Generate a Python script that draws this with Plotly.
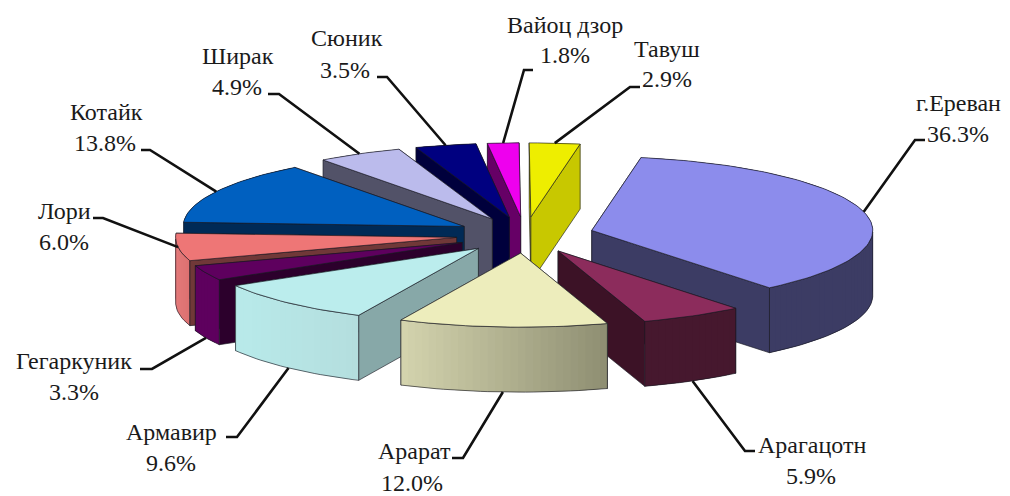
import math
import plotly.graph_objects as go

# --- data (clockwise from the start angle) ---
regions = ["г.Ереван", "Арагацотн", "Арарат", "Армавир", "Гегаркуник", "Лори",
           "Котайк", "Ширак", "Сюник", "Вайоц дзор", "Тавуш"]
shares = [36.3, 5.9, 12.0, 9.6, 3.3, 6.0, 13.8, 4.9, 3.5, 1.8, 2.9]

# --- styles ---
top_colors = ["#8C8CEC", "#8C2C5C", "#EDEDBC", "#BBEDED", "#5E005E", "#EE7676",
              "#0060C0", "#BBBBEC", "#000080", "#EE00EE", "#EEEE00"]
face_colors = ["#3C3C64", "#3C1226", "#8C8C70", "#87A8A8", "#2C002C", "#703838",
               "#002A56", "#525268", "#00003C", "#660066", "#C8C800"]
rim_start = ["#3C3C64", "#46182E", "#D4D4AE", "#B8EAEA", "#5E005E", "#E47A7A",
             "#002A56", "#525268", "#00003C", "#660066", "#C8C800"]
rim_end = ["#3C3C64", "#46182E", "#8E8E72", "#B4DEDE", "#5E005E", "#DC7070",
           "#002A56", "#525268", "#00003C", "#660066", "#C8C800"]

# --- projection of the tilted, exploded pie (pixels of the axes) ---
CX, CY, RX, RY, EXPLODE, DEPTH, START = 525, 235, 281, 74, 69, 65, 10.1
EDGE = "rgba(25,25,35,0.8)"

# --- label layout: (name x, name y, value x, value y, elbow x, elbow y, tail x) ---
label_layout = [
    (958, 103, 958, 134, 915, 140, 925),
    (812, 445, 811, 476, 745, 451, 755),
    (414, 451, 412, 483, 463, 458, 452),
    (171, 432, 171, 463, 237, 437, 226),
    (74, 361, 74, 392, 152, 369, 140),
    (64, 211, 64, 242, 103, 218, 93),
    (106, 112, 105, 143, 150, 150, 141),
    (238, 56, 237, 87, 279, 94, 268),
    (347, 38, 345, 70, 387, 77, 377),
    (565, 25, 565, 55, 524, 70, 533),
    (667, 49, 667, 79, 630, 87, 640),
]


def mix(c1, c2, t):
    a = [int(c1[i:i + 2], 16) for i in (1, 3, 5)]
    b = [int(c2[i:i + 2], 16) for i in (1, 3, 5)]
    return "#%02X%02X%02X" % tuple(round(p + (q - p) * t) for p, q in zip(a, b))


def poly(xs, ys, fill=None, line=EDGE, width=0.8):
    return go.Scatter(
        x=list(xs) + [xs[0]], y=list(ys) + [ys[0]], mode="lines",
        fill="toself" if fill else "none", fillcolor=fill,
        line=dict(color=line, width=width),
        hoverinfo="skip", showlegend=False)


def rim_point(apex, theta):
    t = math.radians(theta)
    return apex[0] + RX * math.sin(t), apex[1] - RY * math.cos(t)


# angular extents
wedges = []
a = START
for i, v in enumerate(shares):
    b = a + 3.6 * v
    m = math.radians((a + b) / 2)
    apex = (CX + EXPLODE * math.sin(m), CY - EXPLODE * RY / RX * math.cos(m))
    wedges.append(dict(i=i, a=a, b=b, m=(a + b) / 2, apex=apex, c=math.cos(m)))
    a = b

fig = go.Figure()
annotations = []

for w in sorted(wedges, key=lambda q: -q["c"]):
    i = w["i"]
    apex = w["apex"]
    n = max(4, int((w["b"] - w["a"]) / 1.5))
    angles = [w["a"] + (w["b"] - w["a"]) * k / n for k in range(n + 1)]
    rim = [rim_point(apex, t) for t in angles]

    def radial(p):
        xs = [apex[0], p[0], p[0], apex[0]]
        ys = [apex[1], p[1], p[1] + DEPTH, apex[1] + DEPTH]
        return ("face", sum(ys) / 4, xs, ys)

    faces = [radial(rim[0]), radial(rim[-1]),
             ("rim", sum(p[1] for p in rim) / len(rim) + DEPTH / 2, None, None)]
    for kind, _, xs, ys in sorted(faces, key=lambda f: f[1]):
        if kind == "face":
            fig.add_trace(poly(xs, ys, face_colors[i]))
        else:
            lo, hi = min(p[0] for p in rim), max(p[0] for p in rim)
            # each strip overlaps the next one, so no seams show between them
            for k in range(n):
                p, e = rim[k], rim[min(k + 2, n)]
                t = ((rim[k][0] + rim[k + 1][0]) / 2 - lo) / max(hi - lo, 1)
                col = mix(rim_start[i], rim_end[i], t)
                fig.add_trace(poly([p[0], e[0], e[0], p[0]],
                                   [p[1], e[1], e[1] + DEPTH, p[1] + DEPTH],
                                   col, col, 0))
            # outline only the front-facing part of the rim
            front = [p for t, p in zip(angles, rim) if 90 <= (t % 360) <= 270]
            if len(front) > 1:
                ox = [p[0] for p in front] + [p[0] for p in reversed(front)]
                oy = [p[1] for p in front] + [p[1] + DEPTH for p in reversed(front)]
                fig.add_trace(poly(ox, oy, None))
    xs = [apex[0]] + [p[0] for p in rim]
    ys = [apex[1]] + [p[1] for p in rim]
    fig.add_trace(poly(xs, ys, top_colors[i]))

# labels and leaders
for w in wedges:
    i = w["i"]
    nx, ny, vx, vy, ex, ey, tx = label_layout[i]
    sx, sy = rim_point(w["apex"], w["m"])
    if w["c"] < -0.3:
        sy += DEPTH
    fig.add_trace(go.Scatter(x=[sx, ex, tx], y=[sy, ey, ey], mode="lines",
                             line=dict(color="#111111", width=2.6),
                             hoverinfo="skip", showlegend=False))
    for x, y, text in ((nx, ny, regions[i]), (vx, vy, f"{shares[i]:.1f}%")):
        annotations.append(dict(x=x, y=y, text=text, showarrow=False,
                                xanchor="center", yanchor="middle",
                                font=dict(family="Liberation Serif", size=24, color="#1A1A1A")))

fig.update_layout(
    width=1010, height=496, margin=dict(l=0, r=0, t=0, b=0),
    paper_bgcolor="white", plot_bgcolor="white", showlegend=False,
    xaxis=dict(range=[0, 1010], visible=False, fixedrange=True),
    yaxis=dict(range=[496, 0], visible=False, fixedrange=True),
    annotations=annotations,
)
fig.write_html("out.html", config={"displayModeBar": False},
               post_script="document.body.style.margin='0';")
